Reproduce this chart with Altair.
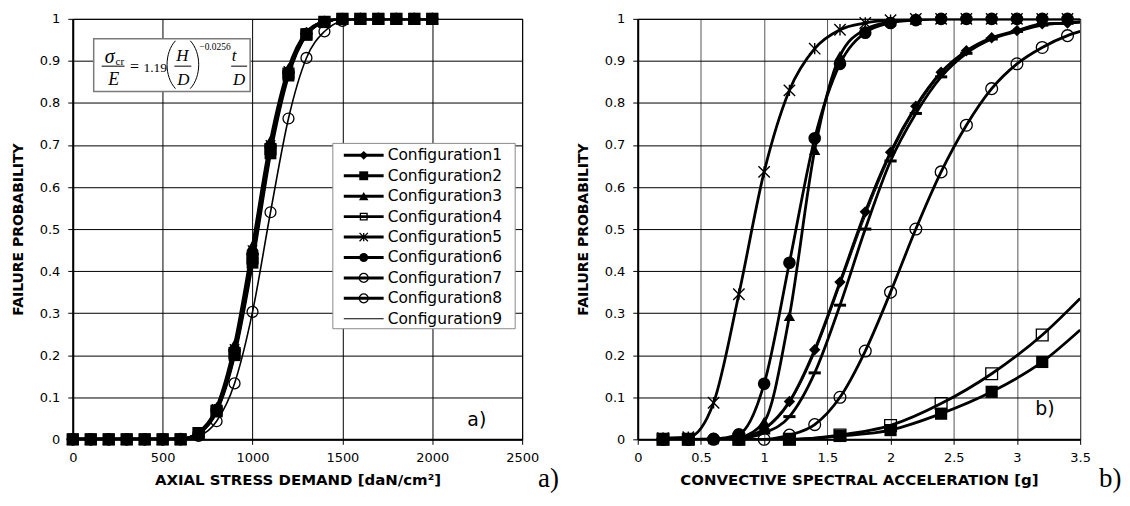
import altair as alt
import pandas as pd

FONT = "DejaVu Sans"
SERIF = "Liberation Serif"

configs = ["Configuration1", "Configuration2", "Configuration3", "Configuration4",
           "Configuration5", "Configuration6", "Configuration7", "Configuration8",
           "Configuration9"]

# ---------------- panel a) : axial stress demand ----------------
stress = [0, 100, 200, 300, 400, 500, 600, 700, 800, 900, 1000, 1100, 1200, 1300,
          1400, 1500, 1600, 1700, 1800, 1900, 2000]
a_c1 = [0, 0, 0, 0, 0, 0, 0, 0.015, 0.07, 0.21, 0.44, 0.70, 0.875, 0.965, 0.993, 1, 1, 1, 1, 1, 1]
a_c2 = [0, 0, 0, 0, 0, 0, 0, 0.014, 0.066, 0.20, 0.42, 0.68, 0.865, 0.962, 0.992, 1, 1, 1, 1, 1, 1]
a_c3 = [0, 0, 0, 0, 0, 0, 0, 0.017, 0.076, 0.225, 0.46, 0.71, 0.882, 0.968, 0.994, 1, 1, 1, 1, 1, 1]
a_c4 = [0, 0, 0, 0, 0, 0, 0, 0.015, 0.068, 0.205, 0.43, 0.69, 0.87, 0.963, 0.993, 1, 1, 1, 1, 1, 1]
a_c5 = [0, 0, 0, 0, 0, 0, 0, 0.016, 0.072, 0.215, 0.45, 0.70, 0.876, 0.966, 0.993, 1, 1, 1, 1, 1, 1]
a_c6 = [0, 0, 0, 0, 0, 0, 0, 0.015, 0.07, 0.21, 0.44, 0.695, 0.872, 0.964, 0.993, 1, 1, 1, 1, 1, 1]
a_c7 = [0, 0, 0, 0, 0, 0, 0.001, 0.008, 0.043, 0.133, 0.303, 0.54, 0.763, 0.907, 0.97, 0.995, 1, 1, 1, 1, 1]
a_c8 = [0, 0, 0, 0, 0, 0, 0, 0.015, 0.07, 0.212, 0.442, 0.697, 0.873, 0.965, 0.993, 1, 1, 1, 1, 1, 1]
a_c9 = [0, 0, 0, 0, 0, 0, 0, 0.015, 0.069, 0.208, 0.438, 0.693, 0.87, 0.964, 0.993, 1, 1, 1, 1, 1, 1]
a_ticks_x = [0, 500, 1000, 1500, 2000, 2500]

# ---------------- panel b) : convective spectral acceleration ----------------
acc = [0.2, 0.4, 0.6, 0.8, 1.0, 1.2, 1.4, 1.6, 1.8, 2.0, 2.2, 2.4, 2.6, 2.8, 3.0, 3.2, 3.4]
acc_sq = [0.2, 0.4, 0.8, 1.2, 1.6, 2.0, 2.4, 2.8, 3.2]
acc_end = 3.5
b_c1 = [0, 0, 0, 0.004, 0.025, 0.09, 0.213, 0.374, 0.541, 0.683, 0.792, 0.873, 0.924, 0.955, 0.972, 0.988, 0.99]
b_c2 = [0, 0, 0, 0, 0.008, 0.022, 0.061, 0.113, 0.184]
b_c3 = [0, 0, 0, 0.004, 0.042, 0.293, 0.688, 0.912, 0.975, 0.993, 0.998, 1, 1, 1, 1, 1, 1]
b_c4 = [0, 0, 0, 0, 0.01, 0.033, 0.085, 0.156, 0.248]
b_c5 = [0.003, 0.005, 0.087, 0.345, 0.636, 0.83, 0.929, 0.974, 0.99, 0.997, 1, 1, 1, 1, 1, 1, 1]
b_c6 = [0, 0, 0.001, 0.012, 0.132, 0.42, 0.716, 0.893, 0.967, 0.99, 0.997, 1, 1, 1, 1, 1, 1]
b_c7 = [0, 0, 0, 0, 0, 0.01, 0.035, 0.10, 0.21, 0.35, 0.50, 0.636, 0.747, 0.834, 0.893, 0.932, 0.96]
b_c8 = [0, 0, 0, 0.002, 0.015, 0.054, 0.158, 0.319, 0.50, 0.662, 0.775, 0.862, 0.918, 0.952, 0.97, 0.985, 0.99]
b_c9 = [0, 0, 0, 0.003, 0.022, 0.085, 0.205, 0.365, 0.53, 0.675, 0.785, 0.868, 0.92, 0.953, 0.971, 0.986, 0.99]
b_end = [0.993, 0.26, 1, 0.335, 1, 1, 0.97, 0.992, 0.993]
b_ticks_x = [0, 0.5, 1, 1.5, 2, 2.5, 3, 3.5]

p_ticks = [0, 0.1, 0.2, 0.3, 0.4, 0.5, 0.6, 0.7, 0.8, 0.9, 1]

formula_parts = ["σ", "cr", "E", "=", "1.19", "H", "D", "−0.0256", "t", "D"]

ASTERISK = "M-1,-1L1,1M-1,1L1,-1M0,-1L0,1"
DASH = "M-1,0L1,0"
LPAREN = "M0.17,-1C-0.3,-0.5 -0.3,0.5 0.17,1"
RPAREN = "M-0.17,-1C0.3,-0.5 0.3,0.5 -0.17,1"

# marker styles: (shape, filled, size_left, size_right, size_legend)
styles = {
    "Configuration1": ("diamond", True, 150, 130, 80),
    "Configuration2": ("square", True, 140, 150, 80),
    "Configuration3": ("triangle-up", True, 160, 130, 90),
    "Configuration4": ("square", False, 120, 140, 45),
    "Configuration5": (ASTERISK, False, 90, 130, 70),
    "Configuration6": ("circle", True, 140, 160, 80),
    "Configuration7": ("circle", False, 120, 140, 80),
    "Configuration8": ("circle", False, 120, 150, 80),
    "Configuration9": (None, False, 0, 0, 0),
}
line_w_left = {"Configuration7": 1.6, "Configuration9": 1.0}
line_w_right = {"Configuration9": 1.0}


def frame(xs, ys, tail_x=None, tail_y=None):
    rows = [{"x": x, "y": y, "m": True} for x, y in zip(xs, ys)]
    if tail_x is not None:
        rows.append({"x": tail_x, "y": tail_y, "m": False})
    return pd.DataFrame(rows)


one = pd.DataFrame({"k": [0]})


def series(df, name, xenc, yenc, lw, size, shape_override=None):
    shape, filled, *_ = styles[name]
    if shape_override is not None:
        shape = shape_override
    out = [alt.Chart(df).mark_line(interpolate="monotone", color="black",
                                   strokeWidth=lw, clip=True).encode(x=xenc, y=yenc)]
    if shape is not None and size > 0:
        pts = alt.Chart(df).transform_filter("datum.m")
        if shape in (ASTERISK, DASH):
            pm = pts.mark_point(shape=shape, filled=False, color="black", opacity=1,
                                strokeWidth=3 if shape == DASH else 1.4, size=size)
        elif filled:
            pm = pts.mark_point(shape=shape, filled=True, color="black", opacity=1,
                                size=size, strokeWidth=0)
        else:
            pm = pts.mark_point(shape=shape, filled=False, color="black", opacity=1,
                                size=size, strokeWidth=1.3)
        out.append(pm.encode(x=xenc, y=yenc))
    return out


def txt(s, x, y, size, font=SERIF, style="normal", align="center",
        baseline="alphabetic", weight="normal"):
    return alt.Chart(one).mark_text(
        text=s, font=font, fontSize=size, fontStyle=style, align=align,
        baseline=baseline, fontWeight=weight, color="black"
    ).encode(x=alt.value(x), y=alt.value(y))


def hbar(x1, x2, y, w=1.0, color="black"):
    return alt.Chart(one).mark_rule(color=color, strokeWidth=w).encode(
        x=alt.value(x1), x2=alt.value(x2), y=alt.value(y))


def box(x1, x2, y1, y2, stroke, w):
    return alt.Chart(one).mark_rect(fill="white", stroke=stroke, strokeWidth=w).encode(
        x=alt.value(x1), x2=alt.value(x2), y=alt.value(y1), y2=alt.value(y2))


def sym(shape, x, y, size, filled, w=1.3):
    if filled:
        m = alt.Chart(one).mark_point(shape=shape, filled=True, color="black",
                                      opacity=1, size=size, strokeWidth=0)
    else:
        m = alt.Chart(one).mark_point(shape=shape, filled=False, color="black",
                                      opacity=1, size=size, strokeWidth=w)
    return m.encode(x=alt.value(x), y=alt.value(y))


y_axis = alt.Axis(values=p_ticks, format="~g", title="FAILURE PROBABILITY",
                  grid=True, gridColor="black", gridWidth=1, domainWidth=2,
                  tickSize=5, labelPadding=8, titlePadding=14, titleFontSize=14)

# ---------------- left panel ----------------
xa = alt.X("x:Q", scale=alt.Scale(domain=[0, 2500], nice=False, zero=False),
           axis=alt.Axis(values=a_ticks_x, format="d",
                         title="AXIAL STRESS DEMAND [daN/cm²]",
                         grid=True, gridColor="black", gridWidth=1, domainWidth=2,
                         tickSize=5, labelPadding=7, titlePadding=8, labelFlush=False))
ya = alt.Y("y:Q", scale=alt.Scale(domain=[0, 1], nice=False), axis=y_axis)

a_vals = dict(zip(configs, [a_c1, a_c2, a_c3, a_c4, a_c5, a_c6, a_c7, a_c8, a_c9]))
left_layers = []
for name in ["Configuration8", "Configuration4", "Configuration9", "Configuration7",
             "Configuration1", "Configuration2", "Configuration3", "Configuration5",
             "Configuration6"]:
    df = frame(stress, a_vals[name])
    left_layers += series(df, name, xa, ya, line_w_left.get(name, 3), styles[name][2])

# formula box
f = formula_parts
left_layers += [
    box(21, 178, 20, 73, "#7a7a7a", 1.5),
    txt(f[0], 37, 44, 20, style="italic"),
    txt(f[1], 43, 46, 11, align="left"),
    hbar(29, 52, 47.5),
    txt(f[2], 41, 66, 18, style="italic"),
    txt(f[3], 62, 53, 16),
    txt(f[4], 71, 53, 13.5, align="left"),
    sym(LPAREN, 99, 46, 2304, False, 1.0),
    txt(f[5], 110, 42, 17, style="italic"),
    hbar(102, 119, 47.5),
    txt(f[6], 111, 66, 17, style="italic"),
    sym(RPAREN, 122, 46, 2304, False, 1.0),
    txt(f[7], 127, 31, 9.5, align="left"),
    txt(f[8], 162, 42, 17, style="italic"),
    hbar(159, 175, 47.5),
    txt(f[9], 167, 66, 17, style="italic"),
]

# legend
left_layers.append(box(261, 444, 125, 311, "#8a8a8a", 1))
for i, name in enumerate(configs):
    yy = 137 + 20.5 * i
    shape, filled, _, _, lsize = styles[name]
    if shape is not None:
        if shape == ASTERISK:
            left_layers.append(sym(shape, 292, yy, lsize, False, 1.3))
        else:
            left_layers.append(sym(shape, 292, yy, lsize, filled))
    left_layers.append(hbar(272, 312, yy, 1.2 if name == "Configuration9" else 3))
    left_layers.append(txt(name, 316, yy, 15.5, font=FONT, align="left", baseline="middle"))

left_layers.append(txt("a)", 396, 403, 19, font=FONT, align="left", baseline="middle"))
left_layers.append(txt("a)", 467, 470, 27, align="left"))

left = alt.layer(*left_layers).properties(width=451, height=422)

# ---------------- right panel ----------------
xb = alt.X("x:Q", scale=alt.Scale(domain=[0, 3.5], nice=False, zero=False),
           axis=alt.Axis(values=b_ticks_x, format="~g",
                         title="CONVECTIVE SPECTRAL ACCELERATION [g]",
                         grid=True, gridColor="#555555", gridWidth=1, domainWidth=2,
                         tickSize=5, labelPadding=7, titlePadding=8, labelFlush=False))
yb = alt.Y("y:Q", scale=alt.Scale(domain=[0, 1], nice=False), axis=y_axis)

b_vals = dict(zip(configs, [b_c1, b_c2, b_c3, b_c4, b_c5, b_c6, b_c7, b_c8, b_c9]))
right_layers = []
for i, name in enumerate(configs):
    xs = acc_sq if name in ("Configuration2", "Configuration4") else acc
    df = frame(xs, b_vals[name], acc_end, b_end[i])
    right_layers += series(df, name, xb, yb, line_w_right.get(name, 2.8),
                           styles[name][3],
                           shape_override=DASH if name == "Configuration8" else None)

right_layers.append(txt("b)", 399, 392, 19, font=FONT, align="left", baseline="middle"))
right_layers.append(txt("b)", 463, 470, 27, align="left"))

right = alt.layer(*right_layers).properties(width=444, height=422)

chart = alt.hconcat(left, right, spacing=116, bounds="flush").properties(
    padding={"left": 2, "top": 0, "right": 0, "bottom": 0}
).configure_view(stroke="black", strokeWidth=1).configure_axis(
    labelFont=FONT, labelFontSize=13, labelColor="black",
    titleFont=FONT, titleFontSize=15, titleFontWeight="bold", titleColor="black",
    tickColor="black", domainColor="black"
)

chart.save("out.html", embed_options={"renderer": "svg", "actions": False})
